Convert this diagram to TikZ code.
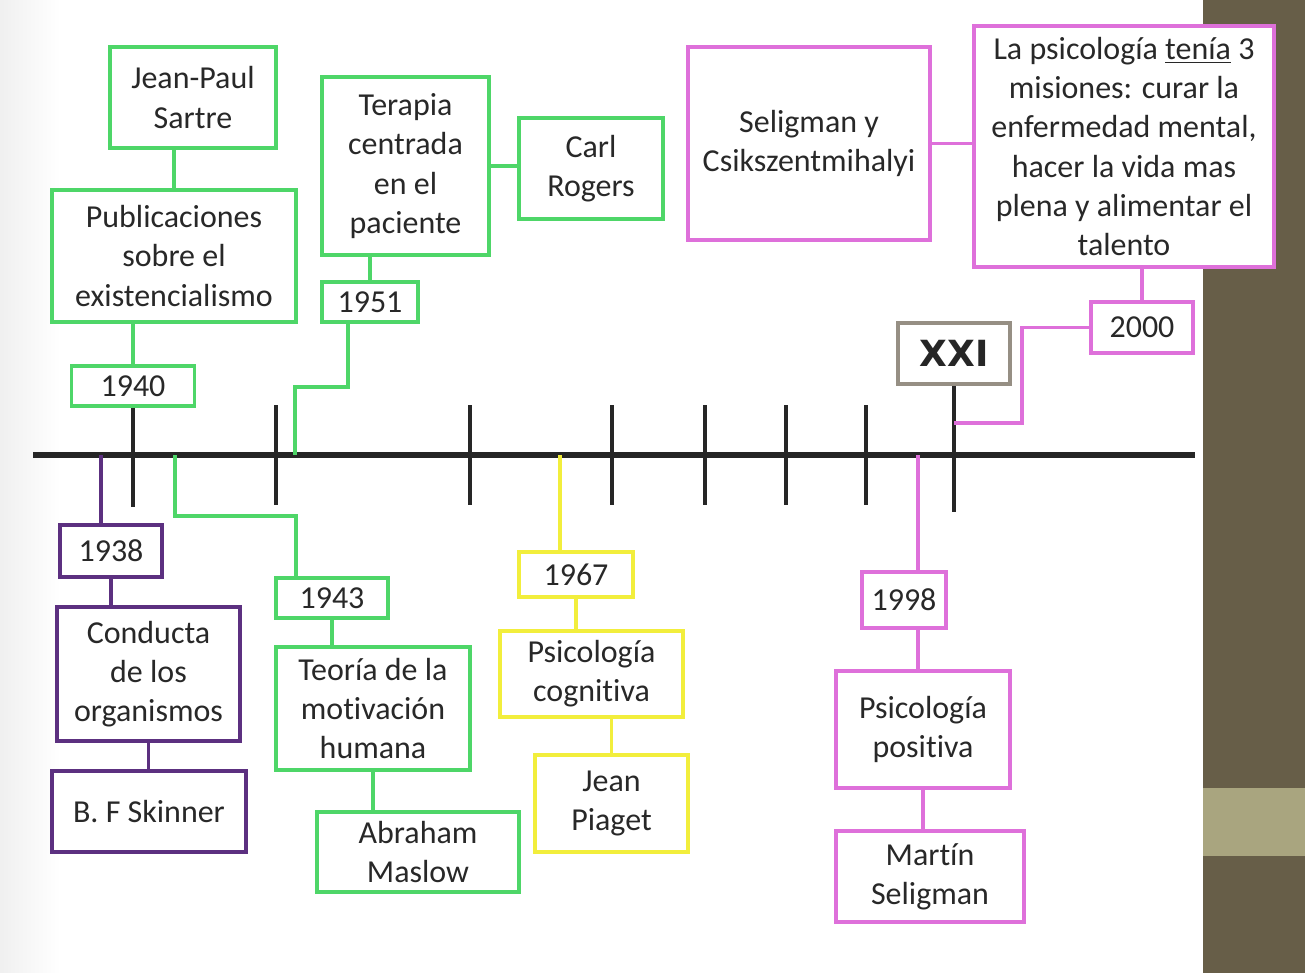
\documentclass[tikz,border=0pt]{standalone}
\usepackage{fontspec}
\setmainfont{Carlito}[Ligatures=NoCommon]
\newfontfamily\heavyfont{DejaVu Sans}
\usetikzlibrary{positioning,calc}
\definecolor{verde}{RGB}{78,214,104}
\definecolor{morado}{RGB}{92,48,128}
\definecolor{amarillo}{RGB}{242,238,60}
\definecolor{rosa}{RGB}{222,112,218}
\definecolor{gris}{RGB}{150,143,132}
\definecolor{texto}{RGB}{40,40,40}
\definecolor{barra}{RGB}{103,94,72}
\definecolor{franja}{RGB}{169,165,127}

\begin{document}
\begin{tikzpicture}[x=0.02cm,y=-0.02cm,
		box/.style={draw=#1,line width=2pt,fill=white,align=center,inner sep=0pt,text=texto,font=\fontsize{18.2}{22.3}\selectfont},
		wh/.style 2 args={minimum width=#1*0.02cm,minimum height=#2*0.02cm},
		link/.style={draw=#1,line width=2pt},
		tick/.style={draw=black!85,line width=1.9pt}]
		% slide background
		\useasboundingbox (0,0) rectangle (1305,973);
		\fill[white] (0,0) rectangle (1305,973);
		\shade[left color=gray!12,right color=white] (0,0) rectangle (60,973);
		\fill[barra] (1203,0) rectangle (1305,973);
		\fill[franja] (1203,788) rectangle (1305,856);

		% time line
		\coordinate (start) at (33,455);
		\coordinate (end) at (1195,455);
		\draw[black!85,line width=3.2pt] (start) -- (end);
		\foreach \x in {276,470,612,705,786,866}
			\draw[tick] (\x,405) -- (\x,505);

		% 1940
		\node[box=verde,wh={166}{101}] (sartre) at (193,97.5) {Jean-Paul\\Sartre};
		\node[box=verde,wh={244}{132}] (existencialismo) at (174,256) {Publicaciones\\sobre el\\existencialismo};
		\node[box=verde,wh={123}{40}] (y1940) at (133,386) {1940};
		\draw[link=verde] (sartre.south -| existencialismo.north) -- (existencialismo.north);
		\draw[link=verde] (y1940.north) -- (y1940.north |- existencialismo.south);
		\draw[tick] (y1940.south) -- ++(0,99);

		% 1951
		\node[box=verde,wh={167}{178}] (terapia) at (405.5,166) {Terapia\\centrada\\en el\\paciente};
		\node[box=verde,wh={144}{101}] (rogers) at (591,168.5) {Carl\\Rogers};
		\node[box=verde,wh={96}{40}] (y1951) at (370,302) {1951};
		\coordinate (t1951) at (295,455);
		\coordinate (k1951) at (348,387);
		\draw[link=verde] (terapia.east) -- (terapia.east -| rogers.west);
		\draw[link=verde] (y1951.north) -- (y1951.north |- terapia.south);
		\draw[link=verde] (y1951.south -| k1951) -- (k1951) -| (t1951);

		% 1938
		\node[box=morado,wh={102}{52}] (y1938) at (111,551) {1938};
		\node[box=morado,wh={183}{134}] (conducta) at (148.5,674) {Conducta\\de los\\organismos};
		\node[box=morado,wh={194}{81}] (skinner) at (149,811.5) {B. F Skinner};
		\coordinate (t1938) at (101,455);
		\draw[link=morado] (t1938) -- (t1938 |- y1938.north);
		\draw[link=morado] (y1938.south) -- (y1938.south |- conducta.north);
		\draw[link=morado] (conducta.south) -- (conducta.south |- skinner.north);

		% 1943
		\node[box=verde,wh={112}{40}] (y1943) at (332,598) {1943};
		\node[box=verde,wh={194}{123}] (motivacion) at (373,708.5) {Teoría de la\\motivación\\humana};
		\node[box=verde,wh={202}{80}] (maslow) at (418,852) {Abraham\\Maslow};
		\coordinate (t1943) at (175,455);
		\coordinate (k1943) at (296,516);
		\draw[link=verde] (t1943) |- (k1943) -- (k1943 |- y1943.north);
		\draw[link=verde] (y1943.south) -- (y1943.south |- motivacion.north);
		\draw[link=verde] (motivacion.south) -- (motivacion.south |- maslow.north);

		% 1967
		\node[box=amarillo,wh={114}{45}] (y1967) at (576,574.5) {1967};
		\node[box=amarillo,wh={183}{86}] (cognitiva) at (591.5,674) {Psicología\\cognitiva};
		\node[box=amarillo,wh={153}{97}] (piaget) at (611.5,803.5) {Jean\\Piaget};
		\coordinate (t1967) at (560,455);
		\draw[link=amarillo] (t1967) -- (t1967 |- y1967.north);
		\draw[link=amarillo] (y1967.south) -- (y1967.south |- cognitiva.north);
		\draw[link=amarillo] (piaget.north) -- (piaget.north |- cognitiva.south);

		% 1998
		\node[box=rosa,wh={84}{56}] (y1998) at (904,600) {1998};
		\node[box=rosa,wh={174}{117}] (positiva) at (923,729.5) {Psicología\\positiva};
		\node[box=rosa,wh={188}{91}] (martin) at (930,876.5) {Martín\\Seligman};
		\coordinate (t1998) at (918,455);
		\draw[link=rosa] (t1998) -- (t1998 |- y1998.north);
		\draw[link=rosa] (t1998 |- y1998.south) -- (t1998 |- positiva.north);
		\draw[link=rosa] (positiva.south) -- (positiva.south |- martin.north);

		% 2000
		\node[box=rosa,wh={242}{193}] (csikszentmihalyi) at (809,143.5) {Seligman y\\Csikszentmihalyi};
		\node[box=rosa,wh={300}{241}] (misiones) at (1124,146.5) {La psicología \underline{tenía} 3\\misiones: curar la\\enfermedad mental,\\hacer la vida mas\\plena y alimentar el\\talento};
		\node[box=rosa,wh={102}{51}] (y2000) at (1142,327.5) {2000};
		\node[box=gris,wh={112}{61},text=black!85,font=\heavyfont\fontsize{20.5}{22}\selectfont\bfseries] (xxi) at (954,353.5) {XXI};
		\coordinate (k2000) at (1022,423);
		\draw[link=rosa] (csikszentmihalyi.east) -- (csikszentmihalyi.east -| misiones.west);
		\draw[link=rosa] (y2000.north) -- (y2000.north |- misiones.south);
		\draw[tick] (xxi.south) -- ++(0,126);
		\draw[link=rosa] (y2000.west) -| (k2000) -- (k2000 -| xxi.south);
	\end{tikzpicture}
\end{document}
